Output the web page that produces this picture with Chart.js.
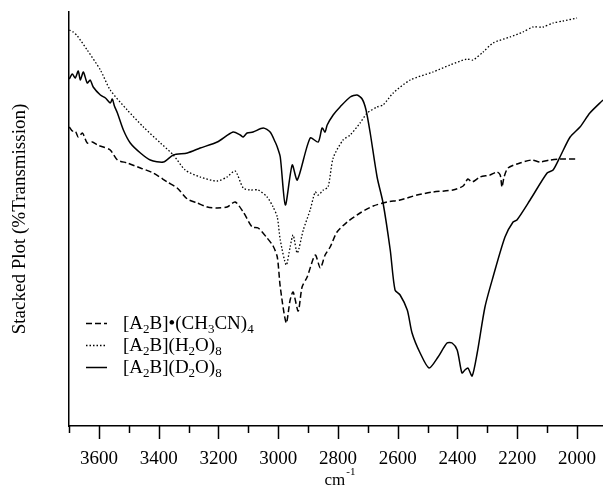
<!DOCTYPE html>
<html><head><meta charset="utf-8">
<script src="https://cdn.jsdelivr.net/npm/chart.js@4.4.1/dist/chart.umd.min.js"></script>
<style>html,body{margin:0;padding:0;background:#fff}#wrap{width:603px;height:487px;position:relative}canvas{display:block}</style>
</head><body><div id="wrap"><canvas id="c" width="603" height="487" style="width:603px;height:487px"></canvas></div>
<script>
// Wavenumber axis (cm-1), reversed
const xMax = 3700;
const xMin = 1913;
const tickValues = [2000,2100,2200,2300,2400,2500,2600,2700,2800,2900,3000,3100,3200,3300,3400,3500,3600,3700];
const tickLabels = ['2000','2200','2400','2600','2800','3000','3200','3400','3600'];
const majorTicks = [2000,2200,2400,2600,2800,3000,3200,3400,3600];

// Series 1: [A2B]•(CH3CN)4 (dashed)
const dashedWn = [3699,3689,3679,3669,3655,3639,3622,3605,3585,3562,3538,3505,3461,3418,3371,3338,3304,3271,3237,3204,3171,3144,3117,3087,3067,3037,3017,3003,2993,2973,2960,2950,2933,2920,2903,2876,2859,2843,2826,2803,2769,2726,2682,2635,2592,2535,2482,2415,2381,2365,2351,2324,2291,2268,2257,2251,2244,2231,2191,2151,2124,2090,2057,2000];
const dashedT = [299,295,295,289,293,283,284,281,279,276,266,263,258,253,244,238,227,223,219,218,219,224,214,199,198,188,180,169,139,103,126,134,115,139,149,171,158,171,179,194,204,213,220,224,226,231,234,236,240,247,244,249,251,254,251,239,249,258,263,266,264,266,267,267];

// Series 2: [A2B](H2O)8 (dotted)
const dottedWn = [3699,3686,3672,3639,3595,3562,3505,3451,3394,3351,3311,3261,3204,3171,3144,3117,3094,3067,3037,3017,3003,2993,2973,2960,2950,2936,2916,2893,2876,2866,2849,2833,2816,2783,2759,2726,2702,2669,2649,2615,2558,2482,2425,2368,2348,2314,2281,2224,2181,2147,2114,2080,2047,2000];
const dottedT = [396,394,390,376,356,336,316,299,283,271,256,249,245,249,255,238,236,236,229,219,209,186,161,179,191,173,196,216,234,231,236,239,268,286,291,303,313,319,321,333,346,354,361,367,366,374,383,389,394,399,399,403,405,408];

// Series 3: [A2B](D2O)8 (solid)
const solidWn = [3699,3689,3679,3669,3662,3652,3639,3629,3619,3595,3578,3562,3555,3548,3538,3518,3495,3461,3428,3384,3351,3304,3261,3204,3151,3127,3117,3104,3084,3050,3027,3010,3003,2993,2976,2953,2936,2893,2866,2853,2843,2836,2816,2793,2759,2736,2719,2706,2692,2669,2649,2625,2609,2592,2568,2552,2525,2495,2465,2435,2418,2401,2385,2375,2365,2351,2334,2308,2281,2241,2214,2201,2157,2100,2080,2057,2023,1990,1957,1913];
const solidT = [347,352,348,355,346,354,343,346,339,331,328,323,327,320,313,296,283,273,266,264,271,273,278,284,294,291,289,293,294,298,294,284,279,269,221,261,246,288,284,298,294,301,311,319,329,331,327,316,293,249,223,176,136,131,116,93,73,58,69,83,83,76,53,56,58,50,73,119,149,189,204,206,226,253,256,269,289,299,313,326];

// Legend text parts: [text, isSubscript]
const legendParts = [
  [['[A',0],['2',1],['B]•(CH',0],['3',1],['CN)',0],['4',1]],
  [['[A',0],['2',1],['B](H',0],['2',1],['O)',0],['8',1]],
  [['[A',0],['2',1],['B](D',0],['2',1],['O)',0],['8',1]]
];
const yTitle = 'Stacked Plot (%Transmission)';
const xTitleMain = 'cm';
const xTitleSup = '-1';

const zip = (xs, ys) => xs.map((x, i) => ({x: x, y: ys[i]}));
const FONT = '"Liberation Serif", "Times New Roman", serif';

const extras = {
  id: 'extras',
  afterDraw(chart) {
    const ctx = chart.ctx, xs = chart.scales.x, area = chart.chartArea;
    ctx.save();
    ctx.strokeStyle = '#000';
    ctx.lineWidth = 1.5;
    ctx.setLineDash([]);
    xs.ticks.forEach(t => {
      const px = Math.round(xs.getPixelForValue(t.value)) + 0.5;
      const len = majorTicks.includes(t.value) ? 13 : 7;
      ctx.beginPath(); ctx.moveTo(px, area.bottom); ctx.lineTo(px, area.bottom + len); ctx.stroke();
    });
    // x title with superscript
    ctx.fillStyle = '#000';
    ctx.textBaseline = 'alphabetic';
    ctx.textAlign = 'left';
    ctx.font = '17px ' + FONT;
    const wMain = ctx.measureText(xTitleMain).width;
    ctx.font = '11px ' + FONT;
    const wSup = ctx.measureText(xTitleSup).width;
    const cx = (area.left + area.right) / 2;
    const x0 = cx - (wMain + wSup + 1) / 2 + 4;
    ctx.font = '17px ' + FONT;
    ctx.fillText(xTitleMain, x0, 485);
    ctx.font = '11px ' + FONT;
    ctx.fillText(xTitleSup, x0 + wMain + 1, 475);
    // legend
    const rowsY = [323, 345, 367];
    chart.data.datasets.forEach((ds, i) => {
      const y = rowsY[i];
      ctx.save();
      ctx.strokeStyle = ds.borderColor;
      ctx.lineWidth = ds.borderWidth;
      ctx.setLineDash(ds.borderDash || []);
      ctx.beginPath(); ctx.moveTo(86, y + 0.5); ctx.lineTo(107, y + 0.5); ctx.stroke();
      ctx.restore();
      let x = 123;
      legendParts[i].forEach(([txt, sub]) => {
        ctx.font = (sub ? '13px ' : '19px ') + FONT;
        ctx.fillText(txt, x, y + (sub ? 10 : 6));
        x += ctx.measureText(txt).width;
      });
    });
    ctx.restore();
  }
};

new Chart(document.getElementById('c'), {
  type: 'line',
  data: {
    datasets: [
      {label: '[A2B]•(CH3CN)4', data: zip(dashedWn, dashedT), borderColor: '#000', borderWidth: 1.5, borderDash: [6, 3], pointRadius: 0, tension: 0.25, fill: false},
      {label: '[A2B](H2O)8', data: zip(dottedWn, dottedT), borderColor: '#000', borderWidth: 1.3, borderDash: [1.5, 2], pointRadius: 0, tension: 0.25, fill: false},
      {label: '[A2B](D2O)8', data: zip(solidWn, solidT), borderColor: '#000', borderWidth: 1.5, pointRadius: 0, tension: 0.25, fill: false}
    ]
  },
  options: {
    responsive: false,
    animation: false,
    devicePixelRatio: 1,
    layout: {padding: {left: 0, right: 0, top: 12, bottom: 0}},
    plugins: {legend: {display: false}, tooltip: {enabled: false}},
    scales: {
      x: {
        type: 'linear', reverse: true, min: xMin, max: xMax,
        afterBuildTicks: s => { s.ticks = tickValues.map(v => ({value: v})); },
        afterFit: s => { s.height = 61; },
        grid: {display: false, drawTicks: false},
        border: {display: true, color: '#000', width: 1.5},
        ticks: {
          autoSkip: false, maxRotation: 0, padding: 22, color: '#000',
          font: {family: FONT, size: 19},
          callback: v => { const i = majorTicks.indexOf(v); return i >= 0 ? tickLabels[i] : ''; }
        }
      },
      y: {
        min: 0, max: 414,
        afterFit: s => { s.width = 69; },
        grid: {display: false, drawTicks: false},
        border: {display: true, color: '#000', width: 1.5},
        ticks: {display: false},
        title: {display: true, text: yTitle, color: '#000', font: {family: FONT, size: 19}, padding: {top: 9, bottom: 0}}
      }
    }
  },
  plugins: [extras]
});
</script>
</body></html>
